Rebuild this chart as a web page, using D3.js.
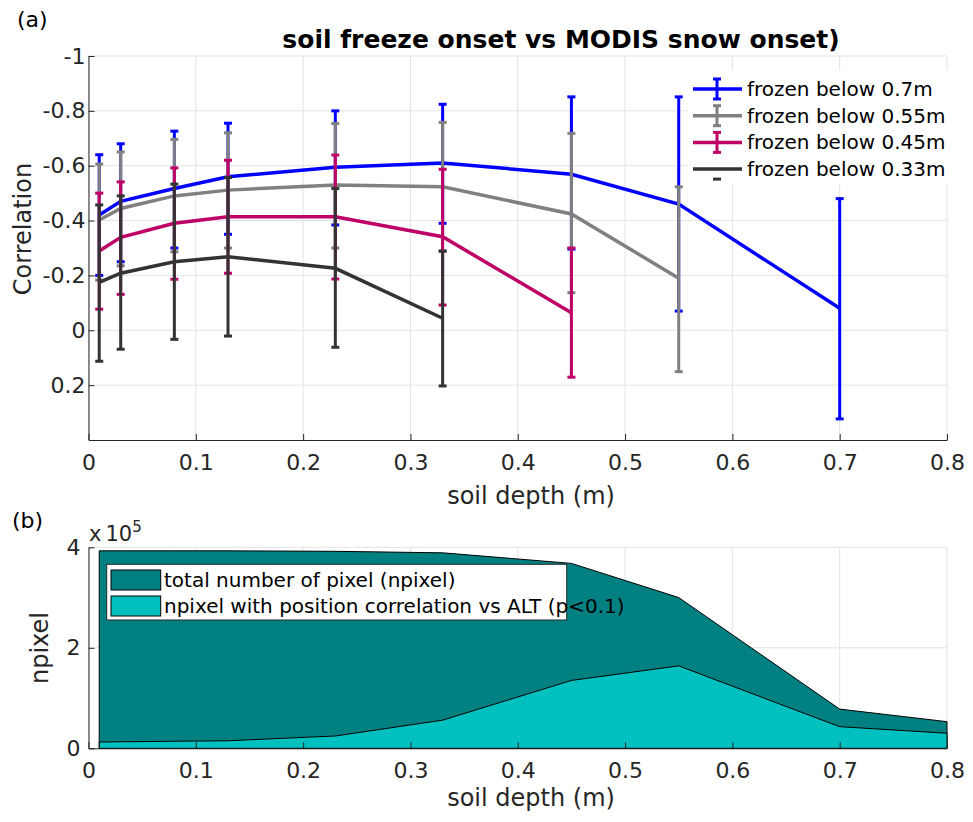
<html>
<head>
  <title>soil freeze onset vs MODIS snow onset</title>
  <script src="https://d3js.org/d3.v7.min.js"></script>
  <style>
    body { margin: 0; background: #fff; }
    text { font-family: "DejaVu Sans", Verdana, sans-serif; }
  </style>
</head>
<body>
<script>
// ---- data ----
// (a) correlation vs soil depth, one series per freeze depth
var depth = [0.01, 0.03, 0.08, 0.13, 0.23, 0.33, 0.45, 0.55, 0.7];

var seriesNames = ["frozen below 0.7m", "frozen below 0.55m", "frozen below 0.45m", "frozen below 0.33m"];
var seriesColors = ["#0000ff", "#808080", "#bf0066", "#333333"];

var corr07  = [-0.42, -0.47, -0.517, -0.56, -0.594, -0.61, -0.569, -0.46, -0.08];
var upper07 = [-0.64, -0.68, -0.726, -0.755, -0.80, -0.824, -0.851, -0.851, -0.48];
var lower07 = [-0.20, -0.25, -0.30, -0.35, -0.384, -0.39, -0.296, -0.07, 0.323];

var corr055  = [-0.402, -0.444, -0.49, -0.511, -0.53, -0.523, -0.424, -0.19];
var upper055 = [-0.606, -0.65, -0.696, -0.72, -0.754, -0.758, -0.718, -0.523];
var lower055 = [-0.183, -0.235, -0.286, -0.30, -0.30, -0.29, -0.137, 0.151];

var corr045  = [-0.289, -0.339, -0.39, -0.414, -0.414, -0.341, -0.064];
var upper045 = [-0.50, -0.541, -0.592, -0.62, -0.639, -0.587, -0.30];
var lower045 = [-0.077, -0.131, -0.186, -0.208, -0.187, -0.092, 0.171];

var corr033  = [-0.175, -0.208, -0.25, -0.268, -0.226, -0.044];
var upper033 = [-0.457, -0.49, -0.533, -0.557, -0.517, -0.288];
var lower033 = [0.113, 0.069, 0.033, 0.021, 0.062, 0.203];

var depthTicks = [0, 0.1, 0.2, 0.3, 0.4, 0.5, 0.6, 0.7, 0.8];
var corrTicks = [-1, -0.8, -0.6, -0.4, -0.2, 0, 0.2];

// (b) number of pixels vs soil depth
var depthPix = [0.01, 0.03, 0.08, 0.13, 0.23, 0.33, 0.45, 0.55, 0.7, 0.8];
var npixTotal = [393000, 393000, 393000, 393000, 392000, 389000, 368000, 300000, 78000, 53000];
var npixSig   = [12500, 13000, 14000, 15000, 24500, 56000, 135000, 164000, 43000, 30000];
var npixTicks = [0, 200000, 400000];
var areaNames = ["total number of pixel (npixel)", "npixel with position correlation vs ALT (p<0.1)"];
var areaColors = ["#008080", "#00c0c0"];

// ---- build series table ----
var series = [
  { name: seriesNames[0], color: seriesColors[0], r: corr07,  up: upper07,  lo: lower07 },
  { name: seriesNames[1], color: seriesColors[1], r: corr055, up: upper055, lo: lower055 },
  { name: seriesNames[2], color: seriesColors[2], r: corr045, up: upper045, lo: lower045 },
  { name: seriesNames[3], color: seriesColors[3], r: corr033, up: upper033, lo: lower033 }
];
series.forEach(function (s) {
  s.pts = s.r.map(function (v, i) { return { x: depth[i], y: v, up: s.up[i], lo: s.lo[i] }; });
});

var width = 973, height = 822;
var axisColor = "#262626", gridColor = "#e3e3e3";

var svg = d3.select("body").append("svg")
            .attr("width", width)
            .attr("height", height);

var fmt = function (d) { return String(Math.round(d * 10) / 10); };

// ================= panel (a) =================
var xA = d3.scaleLinear().domain([0, 0.8]).range([88.5, 947]);
var yA = d3.scaleLinear().domain([-1, 0.4]).range([56, 440]);

var gA = svg.append("g");

// grid
gA.selectAll(".vgrid").data(depthTicks).enter().append("line")
  .attr("x1", d => xA(d)).attr("x2", d => xA(d))
  .attr("y1", yA(-1)).attr("y2", yA(0.4))
  .attr("stroke", gridColor).attr("stroke-width", 1);
gA.selectAll(".hgrid").data(corrTicks).enter().append("line")
  .attr("x1", xA(0)).attr("x2", xA(0.8))
  .attr("y1", d => yA(d)).attr("y2", d => yA(d))
  .attr("stroke", gridColor).attr("stroke-width", 1);

// axes
var xAxisA = gA.append("g").attr("transform", "translate(0," + yA(0.4) + ")")
  .call(d3.axisBottom(xA).tickValues(depthTicks).tickFormat(fmt).tickSizeInner(-6).tickSizeOuter(0).tickPadding(14));
var yAxisA = gA.append("g").attr("transform", "translate(" + xA(0) + ",0)")
  .call(d3.axisLeft(yA).tickValues(corrTicks).tickFormat(fmt).tickSizeInner(-6).tickSizeOuter(0).tickPadding(3));
[xAxisA, yAxisA].forEach(function (ax) {
  ax.select(".domain").attr("stroke", axisColor).attr("stroke-width", 1);
  ax.selectAll(".tick line").attr("stroke", axisColor);
  ax.selectAll(".tick text").attr("fill", axisColor).style("font-size", "22px");
});

// series: line + error bars
var lineA = d3.line().x(d => xA(d.x)).y(d => yA(d.y));
var capW = 4;
series.forEach(function (s) {
  var g = gA.append("g");
  g.append("path").datum(s.pts)
    .attr("d", lineA).attr("fill", "none")
    .attr("stroke", s.color).attr("stroke-width", 3.5);
  var eb = g.selectAll(".eb").data(s.pts).enter().append("g");
  eb.append("line")
    .attr("x1", d => xA(d.x)).attr("x2", d => xA(d.x))
    .attr("y1", d => yA(d.up)).attr("y2", d => yA(d.lo))
    .attr("stroke", s.color).attr("stroke-width", 3);
  eb.append("line")
    .attr("x1", d => xA(d.x) - capW).attr("x2", d => xA(d.x) + capW)
    .attr("y1", d => yA(d.up)).attr("y2", d => yA(d.up))
    .attr("stroke", s.color).attr("stroke-width", 3);
  eb.append("line")
    .attr("x1", d => xA(d.x) - capW).attr("x2", d => xA(d.x) + capW)
    .attr("y1", d => yA(d.lo)).attr("y2", d => yA(d.lo))
    .attr("stroke", s.color).attr("stroke-width", 3);
});

// legend (a)
var legA = gA.append("g");
legA.append("rect").attr("x", 688).attr("y", 70).attr("width", 268).attr("height", 114).attr("fill", "#fff");
var legRows = legA.selectAll(".row").data(series).enter().append("g")
  .attr("transform", (d, i) => "translate(0," + (89 + i * 26.7) + ")");
legRows.append("line").attr("x1", 693).attr("x2", 742).attr("y1", 0).attr("y2", 0)
  .attr("stroke", d => d.color).attr("stroke-width", 3.5);
legRows.each(function (d, i) {
  var r = d3.select(this);
  if (i < 3) {
    r.append("line").attr("x1", 717).attr("x2", 717).attr("y1", -10).attr("y2", 10)
      .attr("stroke", d.color).attr("stroke-width", 3);
    [-10, 10].forEach(function (yy) {
      r.append("line").attr("x1", 713).attr("x2", 721).attr("y1", yy).attr("y2", yy)
        .attr("stroke", d.color).attr("stroke-width", 3);
    });
  } else {
    r.append("line").attr("x1", 713).attr("x2", 721).attr("y1", 10).attr("y2", 10)
      .attr("stroke", d.color).attr("stroke-width", 3);
  }
});
legRows.append("text").attr("x", 747).attr("y", 7)
  .attr("fill", "#000").style("font-size", "20px").text(d => d.name);

// titles / labels
gA.append("text").attr("x", 561).attr("y", 48).attr("text-anchor", "middle")
  .style("font-size", "25px").style("font-weight", "bold").attr("fill", "#000")
  .text("soil freeze onset vs MODIS snow onset)");
svg.append("text").attr("x", 17).attr("y", 27).style("font-size", "22px").attr("fill", "#000").text("(a)");
gA.append("text").attr("transform", "translate(31,229) rotate(-90)").attr("text-anchor", "middle")
  .style("font-size", "24px").attr("fill", axisColor).text("Correlation");
gA.append("text").attr("x", 531).attr("y", 504).attr("text-anchor", "middle")
  .style("font-size", "24px").attr("fill", axisColor).text("soil depth (m)");

// ================= panel (b) =================
var xB = d3.scaleLinear().domain([0, 0.8]).range([88.5, 947]);
var yB = d3.scaleLinear().domain([0, 400000]).range([748.3, 547.3]);
var gB = svg.append("g");

gB.selectAll(".vgrid").data(depthTicks).enter().append("line")
  .attr("x1", d => xB(d)).attr("x2", d => xB(d))
  .attr("y1", yB(0)).attr("y2", yB(400000))
  .attr("stroke", gridColor).attr("stroke-width", 1);
gB.selectAll(".hgrid").data(npixTicks).enter().append("line")
  .attr("x1", xB(0)).attr("x2", xB(0.8))
  .attr("y1", d => yB(d)).attr("y2", d => yB(d))
  .attr("stroke", gridColor).attr("stroke-width", 1);

var pixPts = depthPix.map((x, i) => ({ x: x, total: npixTotal[i], sig: npixSig[i] }));
var areaTotal = d3.area().x(d => xB(d.x)).y0(yB(0)).y1(d => yB(d.total));
var areaSig = d3.area().x(d => xB(d.x)).y0(yB(0)).y1(d => yB(d.sig));
gB.append("path").datum(pixPts).attr("d", areaTotal)
  .attr("fill", areaColors[0]).attr("stroke", "#000").attr("stroke-width", 1);
gB.append("path").datum(pixPts).attr("d", areaSig)
  .attr("fill", areaColors[1]).attr("stroke", "#000").attr("stroke-width", 1);

var xAxisB = gB.append("g").attr("transform", "translate(0," + yB(0) + ")")
  .call(d3.axisBottom(xB).tickValues(depthTicks).tickFormat(fmt).tickSizeInner(-6).tickSizeOuter(0).tickPadding(14));
var yAxisB = gB.append("g").attr("transform", "translate(" + xB(0) + ",0)")
  .call(d3.axisLeft(yB).tickValues(npixTicks).tickFormat(d => d / 100000).tickSizeInner(-6).tickSizeOuter(0).tickPadding(8));
[xAxisB, yAxisB].forEach(function (ax) {
  ax.select(".domain").attr("stroke", axisColor).attr("stroke-width", 1);
  ax.selectAll(".tick line").attr("stroke", axisColor);
  ax.selectAll(".tick text").attr("fill", axisColor).style("font-size", "22px");
});

// exponent label
var expo = gB.append("text").attr("x", 89).attr("y", 541).attr("fill", axisColor).style("font-size", "21px");
expo.append("tspan").text("x");
expo.append("tspan").attr("dx", 4).text("10");
expo.append("tspan").attr("dy", -9).style("font-size", "15px").text("5");

// legend (b)
var legB = gB.append("g");
legB.append("rect").attr("x", 106.7).attr("y", 564.3).attr("width", 460).attr("height", 55.7)
  .attr("fill", "#fff").attr("stroke", axisColor).attr("stroke-width", 1);
var legBRows = legB.selectAll(".row").data(areaNames).enter().append("g")
  .attr("transform", (d, i) => "translate(0," + (570 + i * 26) + ")");
legBRows.append("rect").attr("x", 111).attr("y", 0).attr("width", 49.7).attr("height", 20)
  .attr("fill", (d, i) => areaColors[i]).attr("stroke", "#000").attr("stroke-width", 1);
legBRows.append("text").attr("x", 164).attr("y", 17).attr("fill", "#000")
  .style("font-size", "20px").text(d => d);

svg.append("text").attr("x", 12).attr("y", 528).style("font-size", "22px").attr("fill", "#000").text("(b)");
gB.append("text").attr("transform", "translate(48,648) rotate(-90)").attr("text-anchor", "middle")
  .style("font-size", "24px").attr("fill", axisColor).text("npixel");
gB.append("text").attr("x", 531).attr("y", 806).attr("text-anchor", "middle")
  .style("font-size", "24px").attr("fill", axisColor).text("soil depth (m)");
</script>
</body>
</html>
